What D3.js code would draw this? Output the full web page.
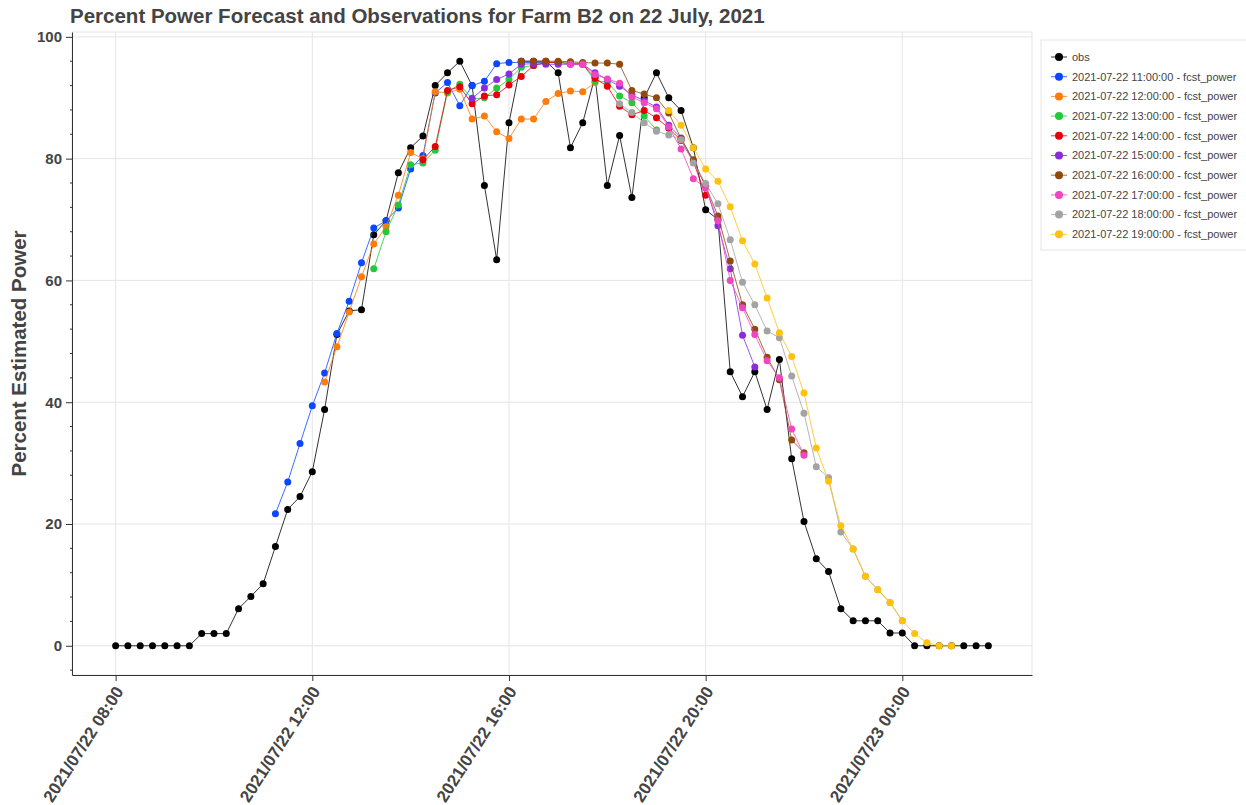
<!DOCTYPE html>
<html>
<head>
<meta charset="utf-8">
<script src="https://cdn.jsdelivr.net/npm/d3@7"></script>
<style>
  body { margin: 0; background: #fff; }
  text { font-family: "Liberation Sans", Arial, sans-serif; }
</style>
</head>
<body>
<svg id="chart" width="1246" height="805"></svg>
<script>
// observations, every 15 min from 08:00
const obsStart = "2021-07-22 08:00:00";
const obs = [
  0, 0, 0, 0, 0, 0, 0, 2, 2, 2, 6.1, 8.1, 10.2,
  16.3, 22.4, 24.5, 28.6, 38.8, 51.1, 55, 55.2,
  67.5, 69.8, 77.7, 81.8, 83.7, 92, 94.1, 96,
  92, 75.6, 63.4, 85.9, 96, 96, 96, 94.1,
  81.8, 85.9, 93.5, 75.6, 83.8, 73.6, 90, 94.1,
  90, 87.9, 81.8, 71.6, 70, 45, 40.9, 45,
  38.8, 47, 30.7, 20.4, 14.3, 12.2, 6.1, 4.1,
  4.1, 4.1, 2.1, 2.1, 0, 0, 0, 0, 0, 0, 0
];

// forecasts, first value is 15 min after issue time
const issueTimes = [
  "2021-07-22 11:00:00", "2021-07-22 12:00:00", "2021-07-22 13:00:00",
  "2021-07-22 14:00:00", "2021-07-22 15:00:00", "2021-07-22 16:00:00",
  "2021-07-22 17:00:00", "2021-07-22 18:00:00", "2021-07-22 19:00:00"
];
const fcst11 = [21.7, 26.9, 33.2, 39.4, 44.8, 51.3, 56.6, 62.9, 68.6, 69.8, 71.9, 78.3,
  80.5, 90.8, 92.5, 88.7, 92, 92.7, 95.6, 95.8, 95.8, 95.8, 95.8, 95.8];
const fcst12 = [43.3, 49.1, 54.8, 60.6, 66, 68.8, 74, 81, 80, 91, 90.8, 91.4,
  86.5, 87, 84.4, 83.3, 86.5, 86.5, 89.4, 90.7, 91.1, 91, 92.5];
const fcst13 = [61.9, 68, 72.4, 79, 79.3, 81.4, 91, 92.2, 89.8, 90, 91.6, 93,
  95, 95.3, 95.8, 95.8, 95.7, 95.6, 92.7, 92.6, 90.3, 89.2, 87, 84.7];
const fcst14 = [79.8, 82, 91.2, 91.8, 89, 90.3, 90.5, 92.1, 93.5, 95.3, 95.8, 95.8,
  95.6, 95.5, 93.2, 91.9, 88.6, 87.2, 87.9, 86.7, 85, 83, 79.5, 74];
const fcst15 = [89.9, 91.6, 93, 93.9, 95.5, 95.6, 95.5, 95.5, 95.5, 95.5, 94.1, 93,
  91.9, 90.5, 89.5, 88.5, 85.5, 83.4, 79.5, 75.5, 69, 61.9, 51, 45.8];
const fcst16 = [96, 96, 96, 96, 95.9, 95.8, 95.7, 95.7, 95.5, 91.2, 90.6, 90,
  87.5, 83.3, 79.8, 75.5, 70.6, 63.2, 56, 52, 47.4, 43.7, 33.8, 31.7];
const fcst17 = [95.5, 95.5, 93.8, 93.1, 92.4, 90.1, 89.2, 88.2, 85.2, 81.6, 76.7, 75.2,
  69.8, 60, 55.5, 51.1, 46.8, 44, 35.6, 31.3];
const fcst18 = [89, 87.6, 85.9, 84.5, 83.9, 83.1, 79.3, 75.9, 72.6, 66.7, 59.7, 56,
  51.7, 50.6, 44.3, 38.2, 29.4, 27.6, 18.7, 15.9, 11.4, 9.2, 7.1, 4.1];
const fcst19 = [87.9, 85.5, 81.8, 78.3, 76.3, 72.1, 66.5, 62.7, 57.1, 51.4, 47.5, 41.5,
  32.5, 27, 19.7, 15.9, 11.4, 9.2, 7.1, 4.1, 2, 0.5, 0, 0];
const fcstValues = [fcst11, fcst12, fcst13, fcst14, fcst15, fcst16, fcst17, fcst18, fcst19];
const fcstColors = ["#0a47ff", "#ff7b0a", "#22c93a", "#e6000b", "#8a2be2",
  "#8f4a0c", "#f046c0", "#a3a3a3", "#ffc20a"];

const yTicks = [0, 20, 40, 60, 80, 100];

const parseT = d3.timeParse("%Y-%m-%d %H:%M:%S");
const step = 15 * 60 * 1000;

function toPoints(start, values) {
  const t0 = parseT(start).getTime();
  return values.map((v, i) => ({ t: new Date(t0 + i * step), v: v }));
}

const series = [{ name: "obs", color: "#000", pts: toPoints(obsStart, obs) }];
issueTimes.forEach((it, k) => {
  const first = new Date(parseT(it).getTime() + step);
  series.push({
    name: it + " - fcst_power",
    color: fcstColors[k],
    pts: fcstValues[k].map((v, i) => ({ t: new Date(first.getTime() + i * step), v: v }))
  });
});

const svg = d3.select("#chart");
const area = { left: 72, right: 1032, top: 32, bottom: 675 };

// data range with 5% padding
const obsPts = series[0].pts;
const tMin = obsPts[0].t.getTime(), tMax = obsPts[obsPts.length - 1].t.getTime();
const tPad = (tMax - tMin) * 0.05;
const scaleX = d3.scaleTime()
  .domain([new Date(tMin - tPad), new Date(tMax + tPad)])
  .range([area.left, area.right]);
const scaleY = d3.scaleLinear()
  .domain([-4.8, 100.8])
  .range([area.bottom, area.top]);

const xTicks = scaleX.ticks(d3.timeHour.every(4));

// grid
svg.append("g").selectAll("line").data(xTicks).join("line")
  .attr("x1", d => scaleX(d)).attr("x2", d => scaleX(d))
  .attr("y1", area.top).attr("y2", area.bottom)
  .attr("stroke", "#e5e5e5");
svg.append("g").selectAll("line").data(yTicks).join("line")
  .attr("x1", area.left).attr("x2", area.right)
  .attr("y1", d => scaleY(d)).attr("y2", d => scaleY(d))
  .attr("stroke", "#e5e5e5");

// outline
svg.append("rect")
  .attr("x", area.left).attr("y", area.top)
  .attr("width", area.right - area.left).attr("height", area.bottom - area.top)
  .attr("fill", "none").attr("stroke", "#e5e5e5");

// axes
const axY = svg.append("g")
  .attr("transform", `translate(${area.left},0)`)
  .call(d3.axisLeft(scaleY).tickValues(yTicks).tickSizeInner(6).tickSizeOuter(0).tickPadding(4));
axY.selectAll("text").style("font-size", "15px").style("font-weight", "bold").attr("fill", "#444");
axY.select(".domain").attr("stroke", "#333");
axY.selectAll(".tick line").attr("stroke", "#333");
// minor ticks
const minorY = d3.range(-4, 101, 4).filter(d => !yTicks.includes(d));
axY.append("g").selectAll("line").data(minorY).join("line")
  .attr("x1", -2).attr("x2", 0)
  .attr("y1", d => scaleY(d)).attr("y2", d => scaleY(d))
  .attr("stroke", "#333");

const axX = svg.append("g")
  .attr("transform", `translate(0,${area.bottom})`)
  .call(d3.axisBottom(scaleX).tickValues(xTicks).tickSizeInner(6).tickSizeOuter(0)
    .tickFormat(d3.timeFormat("%Y/%m/%d %H:%M")));
axX.select(".domain").attr("stroke", "#333");
axX.selectAll(".tick line").attr("stroke", "#333");
axX.selectAll("text")
  .style("font-size", "17px").style("font-weight", "bold").attr("fill", "#444")
  .style("text-anchor", "end")
  .attr("x", 0).attr("y", 0).attr("dy", "0.35em")
  .attr("transform", "translate(3,13) rotate(-57.3)");

// series
const line = d3.line().x(d => scaleX(d.t)).y(d => scaleY(d.v));
series.forEach(s => {
  svg.append("path")
    .datum(s.pts)
    .attr("fill", "none")
    .attr("stroke", s.color)
    .attr("stroke-opacity", 0.8)
    .attr("stroke-width", 1)
    .attr("d", line);
  svg.append("g").selectAll("circle").data(s.pts).join("circle")
    .attr("cx", d => scaleX(d.t))
    .attr("cy", d => scaleY(d.v))
    .attr("r", 3.5)
    .attr("fill", s.color);
});

// title and axis label
svg.append("text")
  .attr("x", 70).attr("y", 23)
  .style("font-size", "20.5px").style("font-weight", "bold")
  .attr("fill", "#444")
  .text("Percent Power Forecast and Observations for Farm B2 on 22 July, 2021");

svg.append("text")
  .attr("transform", `translate(26,${(area.top + area.bottom) / 2}) rotate(-90)`)
  .attr("text-anchor", "middle")
  .style("font-size", "20.5px").style("font-weight", "bold")
  .attr("fill", "#444")
  .text("Percent Estimated Power");

// legend
const legend = svg.append("g").attr("transform", "translate(1041,40)");
legend.append("rect")
  .attr("width", 215).attr("height", 210)
  .attr("fill", "#fff").attr("stroke", "#e5e5e5");
series.forEach((s, i) => {
  const g = legend.append("g").attr("transform", `translate(0,${17 + i * 19.7})`);
  g.append("line").attr("x1", 10).attr("x2", 26).attr("stroke", s.color).attr("stroke-opacity", 0.8);
  g.append("circle").attr("cx", 18).attr("r", 4).attr("fill", s.color);
  g.append("text").attr("x", 31).attr("dy", "0.35em")
    .style("font-size", "11px").attr("fill", "#444").text(s.name);
});
</script>
</body>
</html>
